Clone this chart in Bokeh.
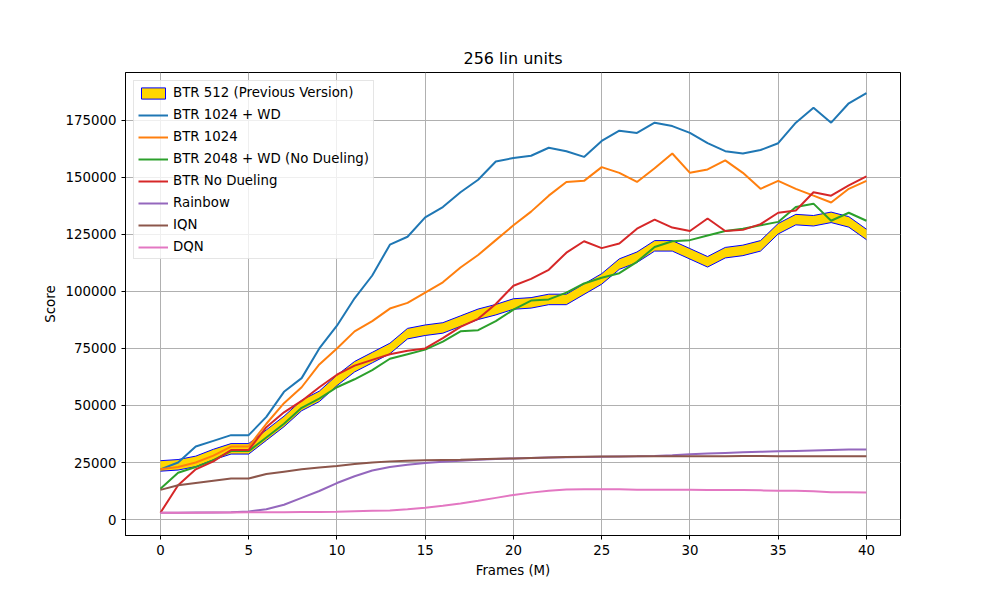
from bokeh.plotting import figure
from bokeh.embed import file_html
from bokeh.resources import INLINE
from bokeh.models import Range1d, FixedTicker, BasicTickFormatter, Legend, LegendItem

frames = list(range(41))
btr512 = [23500,24000,25500,28500,31000,31000,37000,43000,50000,54000,61000,67000,71000,75000,81500,83000,84000,87000,90000,92000,94500,95000,96500,96500,101000,105500,112000,115000,120000,120000,116500,113000,117000,118000,120000,127500,131500,131000,132500,130500,125000]
btr512_half = 2300
btr1024wd = [22000,25000,32000,34500,37000,37000,45000,56000,62000,75000,85000,97000,107000,120500,124000,132500,137000,143500,149000,157000,158500,159500,163000,161500,159000,166000,170500,169500,174000,172500,169500,165000,161500,160500,162000,165000,174000,180500,174000,182500,187000]
btr1024 = [22000,23000,25000,28000,32000,32000,42000,51000,58000,68000,75000,82500,87000,92500,95000,99500,104000,110500,116000,122500,129000,135000,142000,148000,148500,154500,152000,148000,154000,160500,152000,153500,157500,152000,145000,148500,145000,142000,139000,145000,148500]
btr2048 = [13500,20500,23000,26000,30000,30000,36000,42000,49000,53000,58000,61500,65500,70500,72500,74500,78000,82500,83000,87000,92000,96000,96500,99500,103500,106000,108000,113000,119500,122000,122500,124500,126500,127500,129000,130500,137000,138500,131000,134500,131000]
btrnod = [3000,15000,22000,25500,30500,30500,40500,47000,52000,58000,63500,67500,70000,72500,74000,75000,79500,84500,88000,94500,102500,105500,109500,117000,122000,119000,121000,127500,131500,128000,126500,132000,126500,127000,129500,134500,135500,143500,142000,146500,150500]
rainbow = [3000,3000,3100,3100,3200,3500,4500,6500,9500,12500,16000,19000,21500,23000,24000,24800,25300,25800,26200,26500,26800,27000,27200,27300,27400,27500,27600,27700,27900,28200,28600,28900,29200,29500,29700,29900,30100,30300,30500,30700,30700]
iqn = [13000,15000,16000,17000,18000,18000,20000,21000,22000,22800,23500,24300,25000,25500,25800,26000,26100,26200,26400,26600,26800,27000,27200,27400,27500,27600,27600,27700,27700,27700,27800,27800,27800,27900,27900,27800,27700,27800,27800,27700,27700]
dqn = [3000,3000,3000,3100,3100,3200,3200,3200,3300,3300,3400,3600,3800,4000,4500,5200,6000,7000,8200,9500,10800,11800,12600,13200,13300,13300,13300,13100,13100,13100,13100,13000,13000,12900,12800,12600,12600,12400,12000,12000,11900]

p = figure(width=984, height=584, output_backend="svg", toolbar_location=None,
           title="256 lin units", x_range=Range1d(-1.98, 41.93), y_range=Range1d(-7000, 196000),
           min_border_left=125, min_border_right=84, min_border_top=72, min_border_bottom=49)
p.title.align = "center"
p.title.text_font = "DejaVu Sans"
p.title.text_font_size = "12pt"
p.title.text_font_style = "normal"
p.title.text_color = "black"
p.background_fill_color = "white"
p.outline_line_color = "black"
p.xaxis.axis_label = "Frames (M)"
p.yaxis.axis_label = "Score"
for ax in (p.xaxis, p.yaxis):
    ax.axis_label_text_font = "DejaVu Sans"
    ax.axis_label_text_font_style = "normal"
    ax.axis_label_text_font_size = "10pt"
    ax.axis_label_text_color = "black"
    ax.major_label_text_font = "DejaVu Sans"
    ax.major_label_text_font_size = "10pt"
    ax.major_label_text_color = "black"
    ax.minor_tick_line_color = None
    ax.major_tick_out = 4
    ax.major_tick_in = 0
    ax.axis_line_color = "black"
    ax.major_tick_line_color = "black"
p.xaxis.ticker = FixedTicker(ticks=list(range(0, 41, 5)))
p.yaxis.ticker = FixedTicker(ticks=list(range(0, 175001, 25000)))
p.yaxis.formatter = BasicTickFormatter(use_scientific=False)
p.grid.grid_line_color = "#b0b0b0"
p.grid.grid_line_alpha = 1.0

lo = [v - btr512_half for v in btr512]
hi = [v + btr512_half for v in btr512]
band = p.varea(x=frames, y1=lo, y2=hi, fill_color="gold")
l1 = p.line(frames, lo, line_color="blue", line_width=1)
l2 = p.line(frames, hi, line_color="blue", line_width=1)

series = [("BTR 1024 + WD", btr1024wd, "#1f77b4"), ("BTR 1024", btr1024, "#ff7f0e"),
          ("BTR 2048 + WD (No Dueling)", btr2048, "#2ca02c"), ("BTR No Dueling", btrnod, "#d62728"),
          ("Rainbow", rainbow, "#9467bd"), ("IQN", iqn, "#8c564b"), ("DQN", dqn, "#e377c2")]
items = []
# legend swatch for band (placed outside the visible range)
sw = p.quad(left=[-100], right=[-99], top=[-100000], bottom=[-100001], fill_color="gold", line_color="blue")
items.append(LegendItem(label="BTR 512 (Previous Version)", renderers=[sw]))
for name, ys, c in series:
    r = p.line(frames, ys, line_color=c, line_width=2)
    items.append(LegendItem(label=name, renderers=[r]))

leg = Legend(items=items, location="top_left", label_text_font="DejaVu Sans",
             label_text_font_size="10pt", label_text_color="black", spacing=7, padding=4, margin=8,
             border_line_color="#cccccc", background_fill_alpha=0.8,
             glyph_width=30, glyph_height=14, label_height=14)
p.add_layout(leg)

open("out.html", "w").write(file_html(p, INLINE))
